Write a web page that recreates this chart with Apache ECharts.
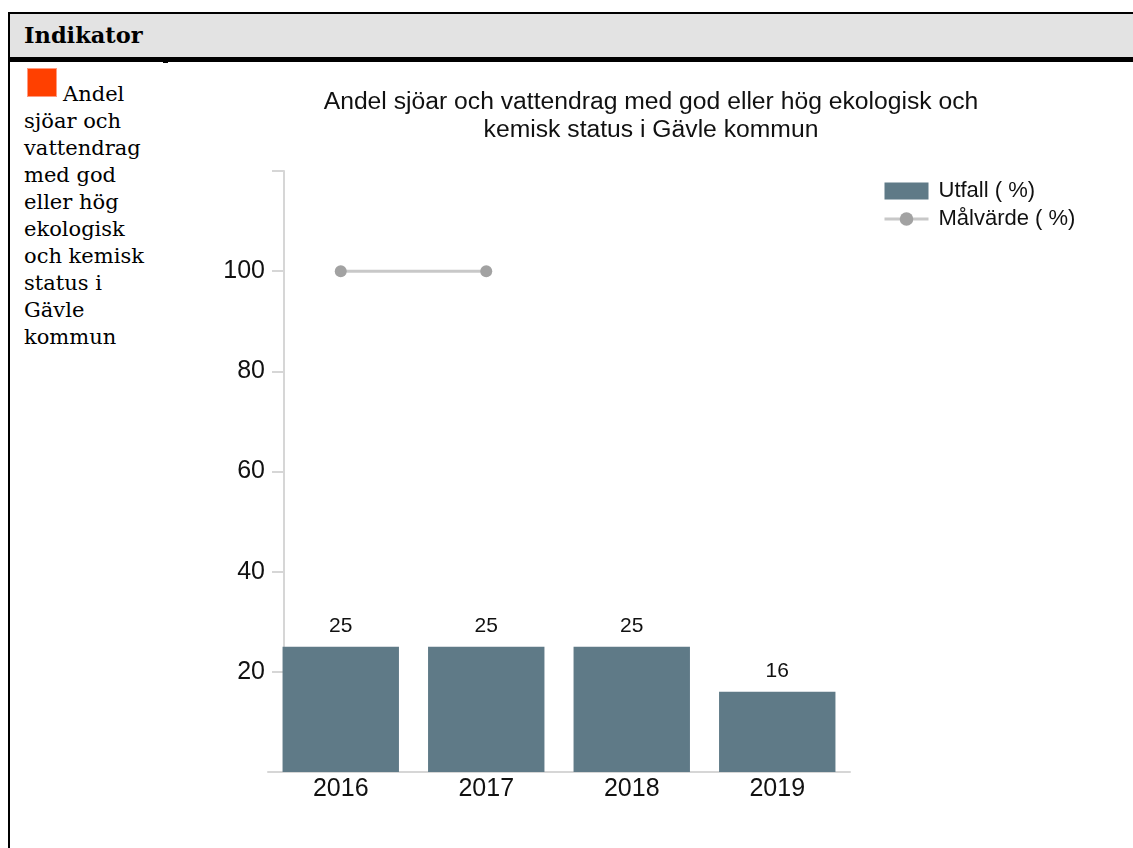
<!DOCTYPE html>
<html>
<head>
<meta charset="utf-8">
<script src="https://cdn.jsdelivr.net/npm/echarts@6/dist/echarts.min.js"></script>
<style>
  html, body { margin: 0; padding: 0; background: #fff; }
  .wrap { position: fixed; left: 0; top: 0; width: 1133px; height: 848px; overflow: hidden; background: #fff; }
  .frame { position: absolute; left: 8px; top: 12px; right: -50px; bottom: -50px; border-left: 2px solid #000; border-top: 2px solid #000; border-right: 0; }
  .head { position: absolute; left: 10px; top: 14px; right: -50px; height: 43px; background: #e3e3e3; border-bottom: 5px solid #000; }
  .headtxt { position: absolute; left: 24px; top: 23px; font-family: "DejaVu Serif", serif; font-weight: bold; font-size: 22.5px; line-height: 24px; color: #000; }
  .tick { position: absolute; left: 163px; top: 61px; width: 5px; height: 2px; background: #000; }
  .sq { position: absolute; left: 27px; top: 68px; width: 28px; height: 27px; background: #ff4000; border: 1px solid #ff9a80; }
  .cell { position: absolute; left: 24px; top: 81px; font-family: "DejaVu Serif", serif; font-size: 21px; line-height: 27px; color: #000; text-indent: 39px; }
  #chart { position: absolute; left: 0; top: 0; width: 1133px; height: 848px; }
</style>
</head>
<body>
<div class="wrap">
<div class="frame"></div>
<div class="head"></div>
<div class="headtxt">Indikator</div>
<div class="tick"></div>
<div class="sq"></div>
<div class="cell">Andel<br><span style="display:inline-block;text-indent:0">sjöar och<br>vattendrag<br>med god<br>eller hög<br>ekologisk<br>och kemisk<br>status i<br>Gävle<br>kommun</span></div>
<div id="chart"></div>
</div>
<script>
const titleText = 'Andel sjöar och vattendrag med god eller hög ekologisk och\nkemisk status i Gävle kommun';
const years = ['2016', '2017', '2018', '2019'];
const utfall = [25, 25, 25, 16];
const malvarde = [100, 100, null, null];
const yTickLabels = [20, 40, 60, 80, 100];
const seriesNames = ['Utfall ( %)', 'Målvärde ( %)'];

const FONT = '"Liberation Sans", Arial, sans-serif';
const chart = echarts.init(document.getElementById('chart'));
chart.setOption({
  animation: false,
  title: {
    text: titleText,
    left: 646,
    top: 83,
    textAlign: 'center',
    textStyle: { fontFamily: FONT, fontSize: 24.7, fontWeight: 'normal', color: '#111', lineHeight: 28 }
  },
  legend: {
    orient: 'vertical',
    left: 883,
    top: 180,
    padding: 0,
    itemWidth: 44,
    itemHeight: 17,
    itemGap: 6,
    data: [
      { name: seriesNames[0], icon: 'rect' },
      { name: seriesNames[1] }
    ],
    lineStyle: { width: 3 },
    textStyle: { fontFamily: FONT, fontSize: 22, color: '#111', lineHeight: 22, padding: [0, 0, 0, 5] }
  },
  grid: { left: 268, right: 283, top: 171, bottom: 76, containLabel: false },
  xAxis: {
    type: 'category',
    data: years,
    axisLine: { lineStyle: { color: '#d6d6d6', width: 2 } },
    axisTick: { show: false },
    axisLabel: { fontFamily: FONT, fontSize: 25, color: '#111', margin: 5 }
  },
  yAxis: {
    type: 'value',
    min: 0,
    max: 120,
    interval: 20,
    offset: -16,
    axisLine: { show: true, lineStyle: { color: '#d6d6d6', width: 2 } },
    axisTick: { show: true, length: 12, lineStyle: { color: '#d6d6d6', width: 2 } },
    splitLine: { show: false },
    axisLabel: {
      fontFamily: FONT, fontSize: 25, color: '#111', margin: 19,
      formatter: v => (yTickLabels.indexOf(v) >= 0 ? String(v) : '')
    }
  },
  series: [
    {
      name: seriesNames[0],
      type: 'bar',
      data: utfall,
      barCategoryGap: '20%',
      itemStyle: { color: '#5f7a87' },
      label: { show: true, position: 'top', distance: 10, fontFamily: FONT, fontSize: 21, color: '#111' }
    },
    {
      name: seriesNames[1],
      type: 'line',
      data: malvarde,
      symbol: 'circle',
      symbolSize: 12,
      lineStyle: { color: '#c8c8c8', width: 3 },
      itemStyle: { color: '#a2a2a2' },
      z: 5
    }
  ]
});
</script>
</body>
</html>
